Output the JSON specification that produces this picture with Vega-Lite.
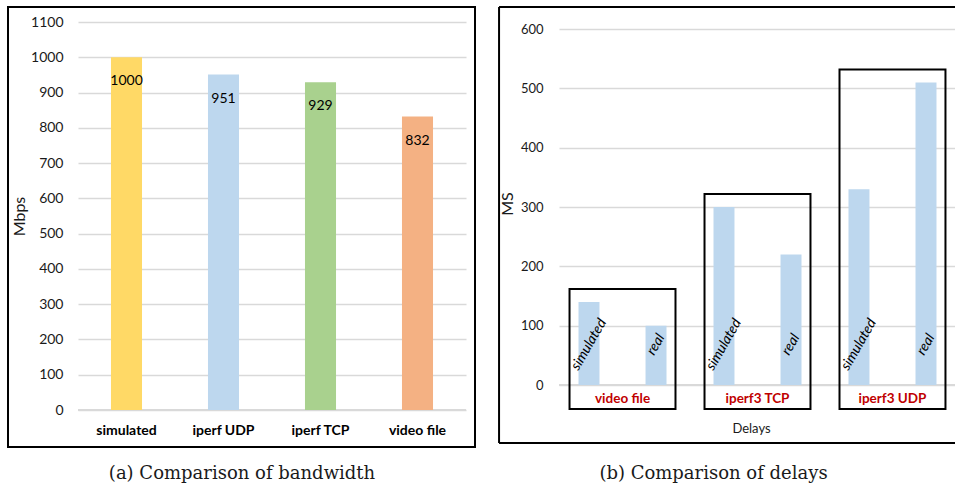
{
  "$schema": "https://vega.github.io/schema/vega-lite/v6.json",
  "padding": {"left": 7, "top": 5, "right": 0, "bottom": 0},
  "background": "white",
  "spacing": 21,
  "config": {
    "view": {"stroke": null},
    "font": "Lato",
    "axis": {
      "labelFont": "Lato",
      "titleFont": "Lato",
      "labelColor": "#1a1a1a",
      "titleColor": "#1a1a1a",
      "gridColor": "#d9d9d9",
      "gridWidth": 1.5,
      "domainColor": "#d9d9d9",
      "domainWidth": 1.5,
      "ticks": false
    },
    "title": {"font": "DejaVu Serif", "fontSize": 18, "fontWeight": "normal", "color": "#1a1a1a"}
  },
  "hconcat": [
    {
      "title": {"text": "(a) Comparison of bandwidth", "orient": "bottom", "anchor": "middle", "frame": "group", "dx": -30, "offset": 17},
      "width": 388,
      "height": 388,
      "data": {"values": [
        {"test": "simulated", "bw": 1000},
        {"test": "iperf UDP", "bw": 951},
        {"test": "iperf TCP", "bw": 929},
        {"test": "video file", "bw": 832}
      ]},
      "layer": [
        {
          "encoding": {
            "x": {"field": "test", "type": "nominal", "sort": null,
              "scale": {"paddingInner": 0.68, "paddingOuter": 0.34},
              "axis": {"title": null, "labelAngle": 0, "labelFontSize": 14, "labelFontWeight": "bold", "labelColor": "#000000", "labelPadding": 13, "domain": false}},
            "y": {"field": "bw", "type": "quantitative",
              "scale": {"domain": [0, 1100], "nice": false},
              "axis": {"values": [0, 100, 200, 300, 400, 500, 600, 700, 800, 900, 1000, 1100], "format": "d", "title": "Mbps", "titleFontSize": 16, "titleFontWeight": "normal", "labelFontSize": 14, "labelPadding": 15, "titlePadding": 3, "domain": false}}
          },
          "layer": [
            {"mark": {"type": "rule", "color": "#d9d9d9", "strokeWidth": 1.5}, "encoding": {"x": null, "y": {"datum": 0}}},
            {"mark": {"type": "bar"},
              "encoding": {"color": {"field": "test", "type": "nominal",
                "scale": {"domain": ["simulated", "iperf UDP", "iperf TCP", "video file"], "range": ["#FFD966", "#BDD7EE", "#A9D18E", "#F4B183"]}, "legend": null}}},
            {"mark": {"type": "text", "dy": 24, "fontSize": 14, "color": "#000000", "baseline": "middle"},
              "encoding": {"text": {"field": "bw", "type": "quantitative", "format": "d"}}}
          ]
        },
        {
          "data": {"values": [{}]},
          "mark": {"type": "rect", "fill": "transparent", "stroke": "#000000", "strokeWidth": 2},
          "encoding": {
            "x": {"datum": -0.1804, "type": "quantitative", "scale": {"domain": [0, 1], "nice": false, "zero": false}, "axis": null},
            "x2": {"datum": 1.0232},
            "y": {"datum": 1.0387, "type": "quantitative", "scale": {"domain": [0, 1], "nice": false, "zero": false}, "axis": null},
            "y2": {"datum": -0.0954}
          }
        }
      ],
      "resolve": {"scale": {"x": "independent", "y": "independent"}}
    },
    {
      "title": {"text": "(b) Comparison of delays", "orient": "bottom", "anchor": "middle", "frame": "group", "dx": -44, "offset": 21},
      "width": 397,
      "height": 363,
      "data": {"values": [
        {"group": "video file", "type": "simulated", "ms": 140},
        {"group": "video file", "type": "real", "ms": 100},
        {"group": "iperf3 TCP", "type": "simulated", "ms": 300},
        {"group": "iperf3 TCP", "type": "real", "ms": 220},
        {"group": "iperf3 UDP", "type": "simulated", "ms": 330},
        {"group": "iperf3 UDP", "type": "real", "ms": 510}
      ]},
      "layer": [
        {
          "encoding": {
            "x": {"field": "group", "type": "nominal", "sort": null,
              "scale": {"paddingInner": 0.215, "paddingOuter": 0.078},
              "axis": {"title": "Delays", "titleFontSize": 13, "titleFontWeight": "normal", "titlePadding": 18, "titleX": 192, "labelAngle": 0, "labelFontSize": 13.5, "labelFontWeight": "bold", "labelColor": "#C00000", "labelPadding": 6, "domain": false}},
            "y": {"field": "ms", "type": "quantitative",
              "scale": {"domain": [0, 611.8], "nice": false},
              "axis": {"values": [0, 100, 200, 300, 400, 500, 600], "title": "MS", "titleFontSize": 16, "titleFontWeight": "normal", "labelFontSize": 13, "labelPadding": 16, "titlePadding": 5, "domain": false}}
          },
          "layer": [
            {"mark": {"type": "rule", "color": "#d9d9d9", "strokeWidth": 1.5}, "encoding": {"x": null, "y": {"datum": 0}}},
            {"mark": {"type": "bar", "color": "#BDD7EE"},
              "encoding": {"xOffset": {"field": "type", "type": "nominal", "sort": ["simulated", "real"], "scale": {"paddingInner": 0.687, "paddingOuter": 0.134}}}},
            {"mark": {"type": "bar", "fill": "transparent", "stroke": "#000000", "strokeWidth": 2, "yOffset": -13, "y2Offset": 24},
              "encoding": {"y": {"aggregate": "max", "field": "ms", "type": "quantitative"}, "y2": {"datum": 0}}},
            {"mark": {"type": "text", "angle": 300, "fontStyle": "italic", "fontSize": 14, "align": "center", "baseline": "middle", "color": "#000000"},
              "encoding": {"xOffset": {"field": "type", "type": "nominal", "sort": ["simulated", "real"], "scale": {"paddingInner": 0.687, "paddingOuter": 0.134}},
                "y": {"datum": 68},
                "text": {"field": "type", "type": "nominal"}}}
          ]
        },
        {
          "data": {"values": [{}]},
          "encoding": {
            "x": {"datum": -0.151, "type": "quantitative", "scale": {"domain": [0, 1], "nice": false, "zero": false}, "axis": null},
            "y": {"datum": 1.0413, "type": "quantitative", "scale": {"domain": [0, 1], "nice": false, "zero": false}, "axis": null}
          },
          "layer": [
            {"mark": {"type": "rule", "color": "#000000", "strokeWidth": 2}, "encoding": {"x2": {"datum": 1.0}}},
            {"mark": {"type": "rule", "color": "#000000", "strokeWidth": 2}, "encoding": {"y2": {"datum": -0.1598}}},
            {"mark": {"type": "rule", "color": "#000000", "strokeWidth": 2}, "encoding": {"y": {"datum": -0.1598, "type": "quantitative"}, "x2": {"datum": 1.0}}}
          ]
        }
      ],
      "resolve": {"scale": {"x": "independent", "y": "independent"}}
    }
  ]
}
